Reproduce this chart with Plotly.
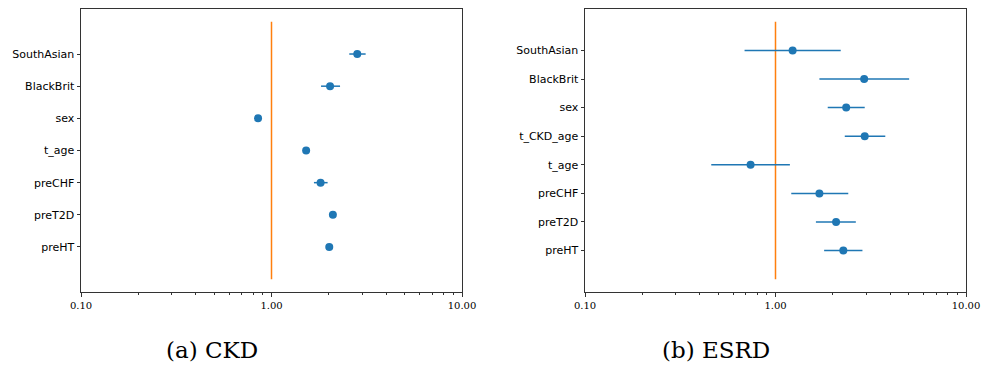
import plotly.graph_objects as go
from plotly.subplots import make_subplots

# Hazard ratios with 95% confidence intervals (log scale)
ckd_labels = ["preHT", "preT2D", "preCHF", "t_age", "sex", "BlackBrit", "SouthAsian"]
ckd_hr = [2.01, 2.10, 1.81, 1.52, 0.85, 2.03, 2.82]
ckd_lo = [1.97, 2.06, 1.67, 1.49, 0.83, 1.82, 2.56]
ckd_hi = [2.05, 2.14, 1.97, 1.55, 0.87, 2.29, 3.12]

esrd_labels = ["preHT", "preT2D", "preCHF", "t_age", "t_CKD_age", "sex", "BlackBrit", "SouthAsian"]
esrd_hr = [2.27, 2.08, 1.70, 0.74, 2.94, 2.35, 2.92, 1.23]
esrd_lo = [1.80, 1.63, 1.21, 0.46, 2.31, 1.88, 1.70, 0.688]
esrd_hi = [2.86, 2.64, 2.41, 1.19, 3.77, 2.94, 5.03, 2.20]

captions = ["(a) CKD", "(b) ESRD"]
x_major = [0.1, 1, 10]
x_major_text = ["0.10", "1.00", "10.00"]
x_minor = [0.2, 0.3, 0.4, 0.5, 0.6, 0.7, 0.8, 0.9, 2, 3, 4, 5, 6, 7, 8, 9]

BLUE = "#1f77b4"
ORANGE = "#ff7f0e"
W, H = 982, 366

fig = make_subplots(rows=1, cols=2)

panels = [
    (ckd_labels, ckd_hr, ckd_lo, ckd_hi, 1, (81, 462)),
    (esrd_labels, esrd_hr, esrd_lo, esrd_hi, 2, (585, 966)),
]

for labels, hr, lo, hi, col, (px0, px1) in panels:
    n = len(labels)
    ypos = list(range(n))
    # reference line at HR = 1
    fig.add_trace(go.Scatter(x=[1, 1], y=[-1, n], mode="lines",
                             line=dict(color=ORANGE, width=1.5),
                             showlegend=False, hoverinfo="skip"), row=1, col=col)
    fig.add_trace(go.Scatter(
        x=hr, y=ypos, mode="markers",
        marker=dict(color=BLUE, size=8),
        error_x=dict(type="data", symmetric=False,
                     array=[h - m for h, m in zip(hi, hr)],
                     arrayminus=[m - l for m, l in zip(hr, lo)],
                     color=BLUE, thickness=1.5, width=0),
        showlegend=False), row=1, col=col)

    pad = 0.05 * (n + 1)
    axis_common = dict(showline=True, mirror=True, linecolor="#333333", linewidth=1,
                       showgrid=False, zeroline=False, ticks="outside",
                       tickcolor="#333333", tickwidth=1, automargin=False)
    fig.update_xaxes(type="log", range=[-1, 1], tickmode="array",
                     tickvals=x_major, ticktext=x_major_text, ticklen=3.5,
                     tickfont=dict(family="DejaVu Serif", size=10, color="black"),
                     minor=dict(tickmode="array", tickvals=x_minor, ticks="outside",
                                ticklen=2, tickcolor="#333333", tickwidth=0.8,
                                showgrid=False),
                     domain=[px0 / W, px1 / W], **axis_common, row=1, col=col)
    fig.update_yaxes(range=[-1 - pad, n + pad], tickmode="array",
                     tickvals=ypos, ticktext=labels, ticklen=3.5,
                     tickfont=dict(family="DejaVu Sans", size=11, color="black"),
                     domain=[1 - 292 / H, 1 - 9 / H], **axis_common, row=1, col=col)

for text, cx in zip(captions, [212, 716]):
    fig.add_annotation(text=text, x=cx / W, y=1 - 350 / H, xref="paper", yref="paper",
                       showarrow=False, xanchor="center", yanchor="middle",
                       font=dict(family="DejaVu Serif", size=23, color="black"))

fig.update_layout(width=W, height=H, margin=dict(l=0, r=0, t=0, b=0),
                  plot_bgcolor="white", paper_bgcolor="white")

fig.write_html("out.html")
